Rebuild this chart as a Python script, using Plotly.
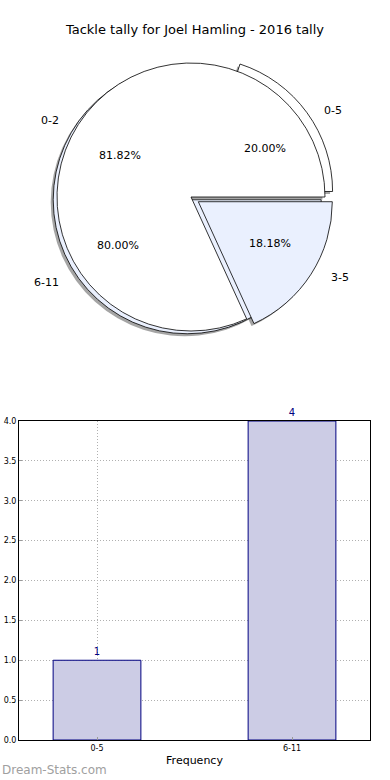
import math
import plotly.graph_objects as go

# ---------------- data ----------------
title_text = "Tackle tally for Joel Hamling - 2016 tally"
pie_a_labels = ["0-5", "6-11"]
pie_a_values = [1, 4]
pie_b_labels = ["0-2", "3-5"]
pie_b_values = [9, 2]
bar_categories = ["0-5", "6-11"]
bar_values = [1, 4]
y_ticks = [0.0, 0.5, 1.0, 1.5, 2.0, 2.5, 3.0, 3.5, 4.0]

# ---------------- styles / layout ----------------
W, H = 390, 780
FONT = "DejaVu Sans"
WHITE = "#ffffff"
LIGHT = "#eaf0fe"
SHADOW = "rgba(40,40,40,0.42)"
pie_a_pull = [0.07, 0.035]
pie_b_pull = [0.0, 0.065]
pie_a_text_pull = [0.05, 0.04]
pie_b_text_pull = [0.0, 0.065]

CX, CY = 191, 197      # pie centre in pixels
R = 134                # drawn radius in px
RX, RY = 141, 128      # text ellipse radii (matplotlib look)


def dom(cx, cy, pull):
    half = R * (1 + max(pull))
    return dict(x=[(cx - half) / W, (cx + half) / W],
                y=[(H - cy - half) / H, (H - cy + half) / H])


fig = go.Figure()


def add_pie(labels, values, colors, pull, dx=0, dy=0, shadow=False):
    # first slice starts at 3 o'clock and runs counter-clockwise (matplotlib style)
    rot = 90 - 360 * values[0] / sum(values)
    fig.add_trace(go.Pie(
        labels=labels, values=values, sort=False, direction="counterclockwise",
        rotation=rot, pull=pull, textinfo="none", hoverinfo="skip",
        showlegend=False, domain=dom(CX + dx, CY + dy, pull),
        marker=dict(colors=[SHADOW] * len(values) if shadow else colors,
                    line=dict(color="black", width=0 if shadow else 0.8)),
    ))


add_pie(pie_a_labels, pie_a_values, None, pie_a_pull, -2.5, 2.5, shadow=True)
add_pie(pie_b_labels, pie_b_values, None, pie_b_pull, -2.5, 2.5, shadow=True)
add_pie(pie_a_labels, pie_a_values, [WHITE, LIGHT], pie_a_pull)
add_pie(pie_b_labels, pie_b_values, [WHITE, LIGHT], pie_b_pull)


def pie_texts(labels, values, tpull):
    total = sum(values)
    start = 0.0
    for lab, v, p in zip(labels, values, tpull):
        frac = v / total
        mid = math.radians(360 * (start + frac / 2))
        start += frac
        c, s = math.cos(mid), math.sin(mid)
        px = CX + (0.6 + p) * RX * c
        py = CY - (0.6 + p) * RY * s
        fig.add_annotation(x=px / W, y=(H - py) / H, xref="paper", yref="paper",
                           text=f"{frac * 100:.2f}%", showarrow=False,
                           font=dict(family=FONT, size=11, color="black"),
                           xanchor="center", yanchor="middle")
        lx = CX + (1.1 + p) * RX * c
        ly = CY - (1.1 + p) * RY * s
        fig.add_annotation(x=lx / W, y=(H - ly) / H, xref="paper", yref="paper",
                           text=lab, showarrow=False,
                           font=dict(family=FONT, size=11, color="black"),
                           xanchor="left" if c >= 0 else "right", yanchor="middle")


pie_texts(pie_a_labels, pie_a_values, pie_a_text_pull)
pie_texts(pie_b_labels, pie_b_values, pie_b_text_pull)

# ---------------- bar chart ----------------
fig.add_trace(go.Bar(
    x=bar_categories, y=bar_values, width=0.45,
    marker=dict(color="#cccce5", line=dict(color="#000080", width=1)),
    text=[str(v) for v in bar_values], textposition="outside",
    textfont=dict(family=FONT, size=10, color="#000080"),
    cliponaxis=False, hoverinfo="skip", showlegend=False,
    xaxis="x", yaxis="y",
))

GRID = dict(showgrid=True, gridcolor="#b0b0b0", griddash="1px,2px", gridwidth=1)
ax_left, ax_right, ax_top, ax_bot = 19, 370, 421, 740
fig.update_layout(
    width=W, height=H, margin=dict(l=0, r=0, t=0, b=0, autoexpand=False),
    paper_bgcolor="white", plot_bgcolor="white",
    font=dict(family=FONT, color="black"),
    title=dict(text=title_text, x=0.5, xanchor="center", y=1 - 29.5 / H, yanchor="middle",
               font=dict(family=FONT, size=13, color="black"), automargin=False),
    xaxis=dict(domain=[ax_left / W, ax_right / W], type="category", range=[-0.4, 1.4],
               showline=True, linecolor="black", linewidth=1, mirror=True,
               ticks="inside", ticklen=3, tickcolor="#999999", automargin=False,
               tickfont=dict(family=FONT, size=8), zeroline=False,
               title=dict(text="Frequency", font=dict(family=FONT, size=11), standoff=4),
               fixedrange=True, **GRID),
    yaxis=dict(domain=[(H - ax_bot) / H, (H - ax_top) / H], range=[0, 4],
               tickvals=y_ticks, ticktext=[f"{t:.1f}" for t in y_ticks],
               showline=True, linecolor="black", linewidth=1, mirror=True,
               ticks="inside", ticklen=3, tickcolor="#999999", automargin=False,
               tickfont=dict(family=FONT, size=8), zeroline=False, fixedrange=True,
               **GRID),
)

fig.add_annotation(x=0, y=(H - 770) / H, xref="paper", yref="paper",
                   text="Dream-Stats.com", showarrow=False,
                   xanchor="left", yanchor="middle",
                   font=dict(family=FONT, size=12, color="#a0a0a0"))

fig.write_html("out.html", config={"displayModeBar": False},
               post_script="document.body.style.margin='0';document.body.style.overflow='hidden';")
